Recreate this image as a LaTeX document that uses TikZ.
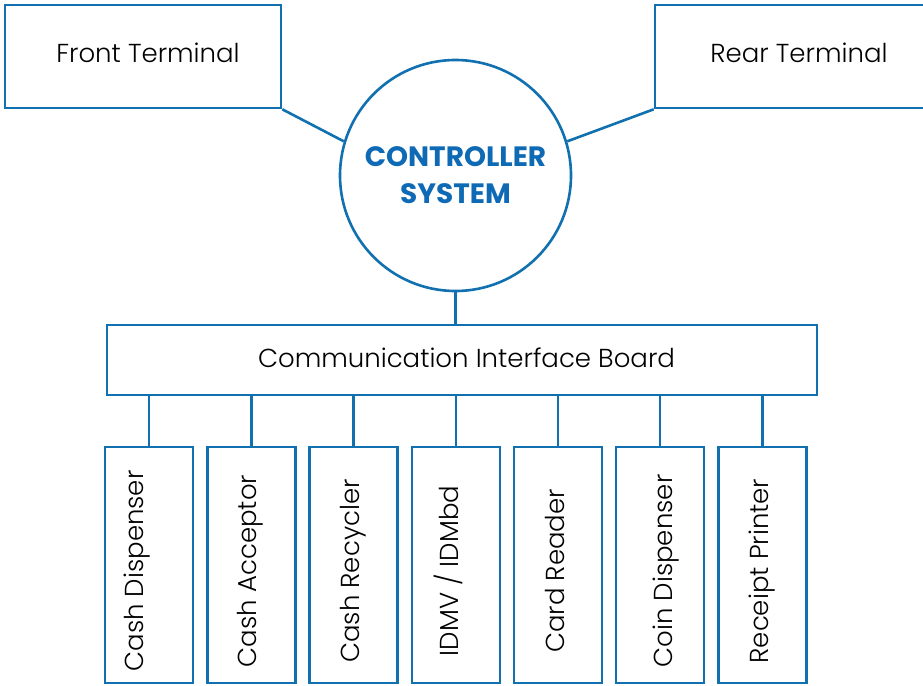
\documentclass[tikz,border=0pt]{standalone}
\usepackage{fontspec}
\setmainfont{Poppins}[UprightFont=* Light, BoldFont=* Bold]
\definecolor{linkblue}{RGB}{16,112,176}
\definecolor{ctrlblue}{RGB}{14,106,180}
\tikzset{
  box/.style={draw=linkblue, line width=2.6pt, rectangle, inner sep=0pt, font=\fontsize{26}{30}\selectfont},
  link/.style={draw=linkblue, line width=2.6pt},
  devtext/.style={rotate=90, anchor=base, inner sep=0pt, font=\fontsize{26}{30}\selectfont}
}

\begin{document}
\begin{tikzpicture}[x=1pt, y=-1pt]
\useasboundingbox (0,0) rectangle (923,685);
\clip (0,0) rectangle (923,685);       %按原图大小裁剪
\node[box, minimum width=276pt, minimum height=103pt, text depth=7pt] (front) at (143,56.5) {\hspace*{10pt}Front Terminal};       %前端终端
\node[box, minimum width=288pt, minimum height=103pt, text depth=7pt] (rear) at (799,56.5) {Rear Terminal};       %后端终端
\node[circle, draw=linkblue, line width=2.6pt, minimum size=231pt, inner sep=0pt, align=center, text=ctrlblue,
  font=\fontsize{28}{37}\selectfont\bfseries] (ctrl) at (455.5,175.5) {CONTROLLER\\SYSTEM};       %控制系统
\node[box, minimum width=710pt, minimum height=70pt, text depth=4pt] (board) at (462,360) {\hspace*{9pt}Communication Interface Board};
\draw[link] (front.south east) -- (ctrl.163);
\draw[link] (rear.south west) -- (ctrl.17);
\draw[link] (ctrl.south) -- (ctrl.south |- board.north);
%下面一排设备,文字竖排
\foreach \n/\t/\cx/\bx in {cd/Cash Dispenser/149/143, ca/Cash Acceptor/251.5/256.5, cr/Cash Recycler/353.3/359,
  id/{IDMV / IDMbd}/455.8/458, rd/Card Reader/558/564, co/Coin Dispenser/660/672, rp/Receipt Printer/762.5/768}{
  \node[box, minimum width=88pt, minimum height=236pt] (\n) at (\cx,565) {};
  \node[devtext] (\n t) at (\bx,571) {\t};
  \draw[link] (board.south -| \n.north) -- (\n.north);
}
\end{tikzpicture}
\end{document}
